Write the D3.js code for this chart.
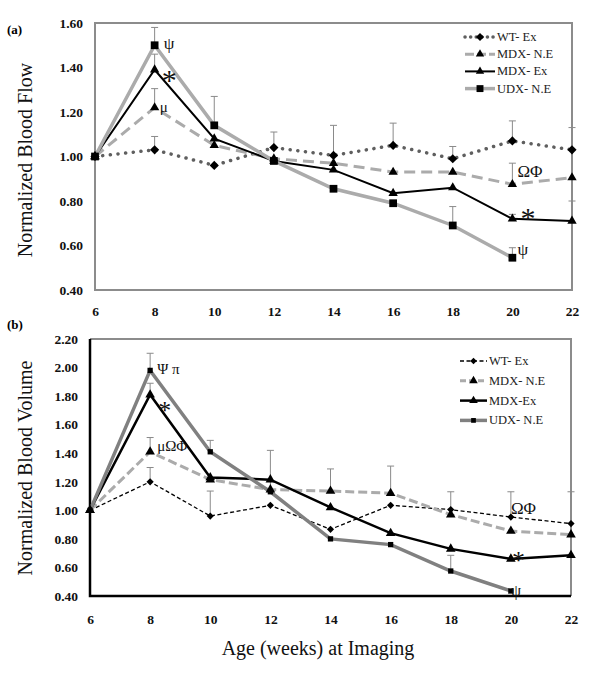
<!DOCTYPE html>
<html><head><meta charset="utf-8">
<script src="https://cdn.jsdelivr.net/npm/d3@7"></script>
<style>body{margin:0;background:#fff}svg{display:block}svg text{font-family:"Liberation Serif","Times New Roman","DejaVu Serif",serif}</style>
</head><body>
<svg id="c" width="600" height="680"></svg>
<script>
// ---- data ----
const weeks = [6, 8, 10, 12, 14, 16, 18, 20, 22];
const seriesNames = ["WT- Ex", "MDX- N.E", "MDX- Ex", "UDX- N.E"];
const seriesNamesB = ["WT- Ex", "MDX- N.E", "MDX-Ex", "UDX- N.E"];

const flowWT    = [1.00, 1.03, 0.96, 1.04, 1.005, 1.05, 0.99, 1.07, 1.03];
const flowMdxNE = [1.00, 1.22, 1.05, 0.99, 0.97, 0.93, 0.93, 0.875, 0.905];
const flowMdxEx = [1.00, 1.39, 1.08, 0.98, 0.94, 0.835, 0.86, 0.72, 0.71];
const flowUdxNE = [1.00, 1.50, 1.14, 0.98, 0.855, 0.79, 0.69, 0.545, null];
const flowWTErr    = [null, 0.06, null, 0.07, 0.135, 0.10, 0.055, 0.09, 0.10];
const flowMdxNEErr = [null, 0.085, null, null, null, null, null, 0.095, null];
const flowMdxExErr = [null, 0.07, null, null, null, null, null, 0.02, 0.09];
const flowUdxNEErr = [null, 0.08, 0.13, null, null, null, 0.085, 0.045, null];

const volWT    = [1.00, 1.20, 0.96, 1.035, 0.867, 1.035, 1.005, 0.953, 0.907];
const volMdxNE = [1.00, 1.41, 1.215, 1.145, 1.135, 1.12, 0.97, 0.855, 0.83];
const volMdxEx = [1.00, 1.81, 1.23, 1.215, 1.02, 0.84, 0.73, 0.66, 0.685];
const volUdxNE = [1.00, 1.98, 1.41, 1.13, 0.80, 0.76, 0.575, 0.435, null];
const volWTErr    = [null, 0.10, 0.175, null, null, null, null, 0.177, 0.223];
const volMdxNEErr = [null, 0.10, null, 0.275, 0.155, 0.19, 0.16, null, null];
const volMdxExErr = [null, 0.08, null, null, null, null, null, null, null];
const volUdxNEErr = [null, 0.12, 0.08, null, null, null, 0.11, null, null];

const flowTicks = [0.40, 0.60, 0.80, 1.00, 1.20, 1.40, 1.60];
const volTicks = [0.40, 0.60, 0.80, 1.00, 1.20, 1.40, 1.60, 1.80, 2.00, 2.20];

const flowNotes = [
  {x: 8, v: 1.50, t: "ψ", dx: 9, dy: 4, fs: 17},
  {x: 8, v: 1.39, t: "*", dx: 7, dy: 20, fs: 30},
  {x: 8, v: 1.22, t: "μ", dx: 5, dy: 4, fs: 15},
  {x: 20, v: 0.875, t: "ΩΦ", dx: 5, dy: -7, fs: 17},
  {x: 20, v: 0.72, t: "*", dx: 8, dy: 9, fs: 30},
  {x: 20, v: 0.545, t: "ψ", dx: 5, dy: -3, fs: 17}
];
const volNotes = [
  {x: 8, v: 1.98, t: "Ψ π", dx: 7, dy: 4, fs: 15},
  {x: 8, v: 1.81, t: "*", dx: 8, dy: 24, fs: 26},
  {x: 8, v: 1.41, t: "μΩΦ", dx: 7, dy: -1, fs: 15},
  {x: 20, v: 0.953, t: "ΩΦ", dx: 0, dy: -3, fs: 17},
  {x: 20, v: 0.66, t: "*", dx: 1, dy: 10, fs: 26},
  {x: 20, v: 0.435, t: "ψ", dx: 0, dy: 5, fs: 16}
];

// ---- drawing ----
const svg = d3.select("#c");
const serif = '"Liberation Serif","Times New Roman","DejaVu Serif",serif';

function txt(sel) { return sel.style("font-family", serif); }

function drawPanel(o) {
  const x = d3.scaleLinear().domain([6, 22]).range([o.left, o.right]);
  const y = d3.scaleLinear().domain(o.yDomain).range([o.bottom, o.top]);
  const g = svg.append("g");

  if (o.frame === "grey") {
    g.append("rect").attr("x", o.left).attr("y", o.top)
      .attr("width", o.right - o.left).attr("height", o.bottom - o.top)
      .attr("fill", "none").attr("stroke", "#8c8c8c").attr("stroke-width", 2);
  } else {
    g.append("path").attr("d", `M${o.left},${o.top}H${o.right}V${o.bottom}`)
      .attr("fill", "none").attr("stroke", "#8c8c8c").attr("stroke-width", 2);
  }

  const yAxis = d3.axisLeft(y).tickValues(o.yTicks).tickFormat(d3.format(".2f")).tickSize(0).tickPadding(12);
  const ya = g.append("g").attr("transform", `translate(${o.left},0)`).call(yAxis);
  const xAxis = d3.axisBottom(x).tickValues(weeks).tickFormat(d3.format("d")).tickSize(0).tickPadding(o.xPad);
  const xa = g.append("g").attr("transform", `translate(0,${o.bottom})`).call(xAxis);
  [ya, xa].forEach(a => {
    a.select(".domain").remove();
    a.attr("font-family", null).attr("font-size", null);
    txt(a.selectAll("text")).style("font-weight", "bold").style("font-size", "13.5px").attr("fill", "#111");
  });
  if (o.frame !== "grey") {
    g.append("path").attr("d", `M${o.left},${o.top}V${o.bottom}H${o.right}`)
      .attr("fill", "none").attr("stroke", "#000").attr("stroke-width", 2.5);
  }

  txt(g.append("text")).attr("transform", `translate(32,${o.titleY}) rotate(-90)`)
    .attr("text-anchor", "middle").style("font-size", "20px")
    .attr("fill", "#111").text(o.yTitle);
  txt(g.append("text")).attr("x", 7).attr("y", o.labelY)
    .style("font-weight", "bold").style("font-size", "13px").text(o.label);

  o.series.forEach(s => {
    s.values.forEach((v, i) => {
      const e = s.err[i];
      if (v == null || e == null) return;
      const cx = x(weeks[i]);
      g.append("line").attr("x1", cx).attr("x2", cx).attr("y1", y(v)).attr("y2", y(v + e))
        .attr("stroke", "#8a8a8a").attr("stroke-width", 1);
      g.append("line").attr("x1", cx - 3.5).attr("x2", cx + 3.5).attr("y1", y(v + e)).attr("y2", y(v + e))
        .attr("stroke", "#8a8a8a").attr("stroke-width", 1);
    });
  });

  const line = d3.line().defined(d => d.v != null).x(d => x(d.w)).y(d => y(d.v));
  o.series.forEach(s => {
    const pts = s.values.map((v, i) => ({w: weeks[i], v}));
    g.append("path").datum(pts).attr("d", line).attr("fill", "none")
      .attr("stroke", s.color).attr("stroke-width", s.width)
      .attr("stroke-dasharray", s.dash || null)
      .attr("stroke-linecap", s.cap || "butt").attr("stroke-linejoin", "miter");
  });
  o.series.forEach(s => {
    const sym = d3.symbol().type(s.sym).size(s.size);
    s.values.forEach((v, i) => {
      if (v == null) return;
      g.append("path").attr("d", sym())
        .attr("transform", `translate(${x(weeks[i])},${y(v)}) rotate(${s.rot || 0})`)
        .attr("fill", "#000");
    });
  });

  o.notes.forEach(n => {
    txt(g.append("text")).attr("x", x(n.x) + n.dx).attr("y", y(n.v) + n.dy)
      .style("font-size", n.fs + "px").attr("fill", "#111").text(n.t);
  });

  o.series.forEach((s, i) => {
    const ly = o.legY + i * o.legStep;
    g.append("line").attr("x1", o.legX).attr("x2", o.legX + o.legW).attr("y1", ly).attr("y2", ly)
      .attr("stroke", s.color).attr("stroke-width", s.width)
      .attr("stroke-dasharray", s.legDash || s.dash || null).attr("stroke-linecap", s.cap || "butt");
    g.append("path").attr("d", d3.symbol().type(s.sym).size(s.size * 0.8)())
      .attr("transform", `translate(${o.legX + o.legW / 2},${ly}) rotate(${s.rot || 0})`).attr("fill", "#000");
    txt(g.append("text")).attr("x", o.legX + o.legW + 2).attr("y", ly + 4)
      .style("font-size", "12.5px").attr("fill", "#222").text(o.names[i]);
  });
}

drawPanel({
  left: 95, right: 572, top: 23, bottom: 290, yDomain: [0.4, 1.6], yTicks: flowTicks,
  xPad: 16, frame: "grey", yTitle: "Normalized Blood Flow", titleY: 160, label: "(a)", labelY: 34,
  names: seriesNames, legX: 465, legW: 30, legY: 37, legStep: 17.2, notes: flowNotes,
  series: [
    {values: flowWT, err: flowWTErr, color: "#5f5f5f", width: 3.5, dash: "0.1,7.6", legDash: "0.1,5.5", cap: "round", sym: d3.symbolSquare, rot: 45, size: 42},
    {values: flowMdxNE, err: flowMdxNEErr, color: "#ababab", width: 3, dash: "11,6", legDash: "9,3", sym: d3.symbolTriangle, size: 38},
    {values: flowMdxEx, err: flowMdxExErr, color: "#000", width: 2, sym: d3.symbolTriangle, size: 38},
    {values: flowUdxNE, err: flowUdxNEErr, color: "#ababab", width: 3.5, sym: d3.symbolSquare, size: 60}
  ]
});

drawPanel({
  left: 90, right: 571, top: 339, bottom: 596, yDomain: [0.4, 2.2], yTicks: volTicks,
  xPad: 18, frame: "axes", yTitle: "Normalized Blood Volume", titleY: 468, label: "(b)", labelY: 329,
  names: seriesNamesB, legX: 460, legW: 27, legY: 361, legStep: 19.8, notes: volNotes,
  series: [
    {values: volWT, err: volWTErr, color: "#000", width: 1.3, dash: "4,2.5", sym: d3.symbolSquare, rot: 45, size: 26},
    {values: volMdxNE, err: volMdxNEErr, color: "#ababab", width: 3, dash: "9,4", legDash: "6,3", sym: d3.symbolTriangle, size: 40},
    {values: volMdxEx, err: volMdxExErr, color: "#000", width: 2.5, sym: d3.symbolTriangle, size: 40},
    {values: volUdxNE, err: volUdxNEErr, color: "#808080", width: 3.5, sym: d3.symbolSquare, size: 28}
  ]
});

txt(svg.append("text")).attr("x", 318).attr("y", 655).attr("text-anchor", "middle")
  .style("font-size", "20px").attr("fill", "#111").text("Age (weeks) at Imaging");
</script>
</body></html>
